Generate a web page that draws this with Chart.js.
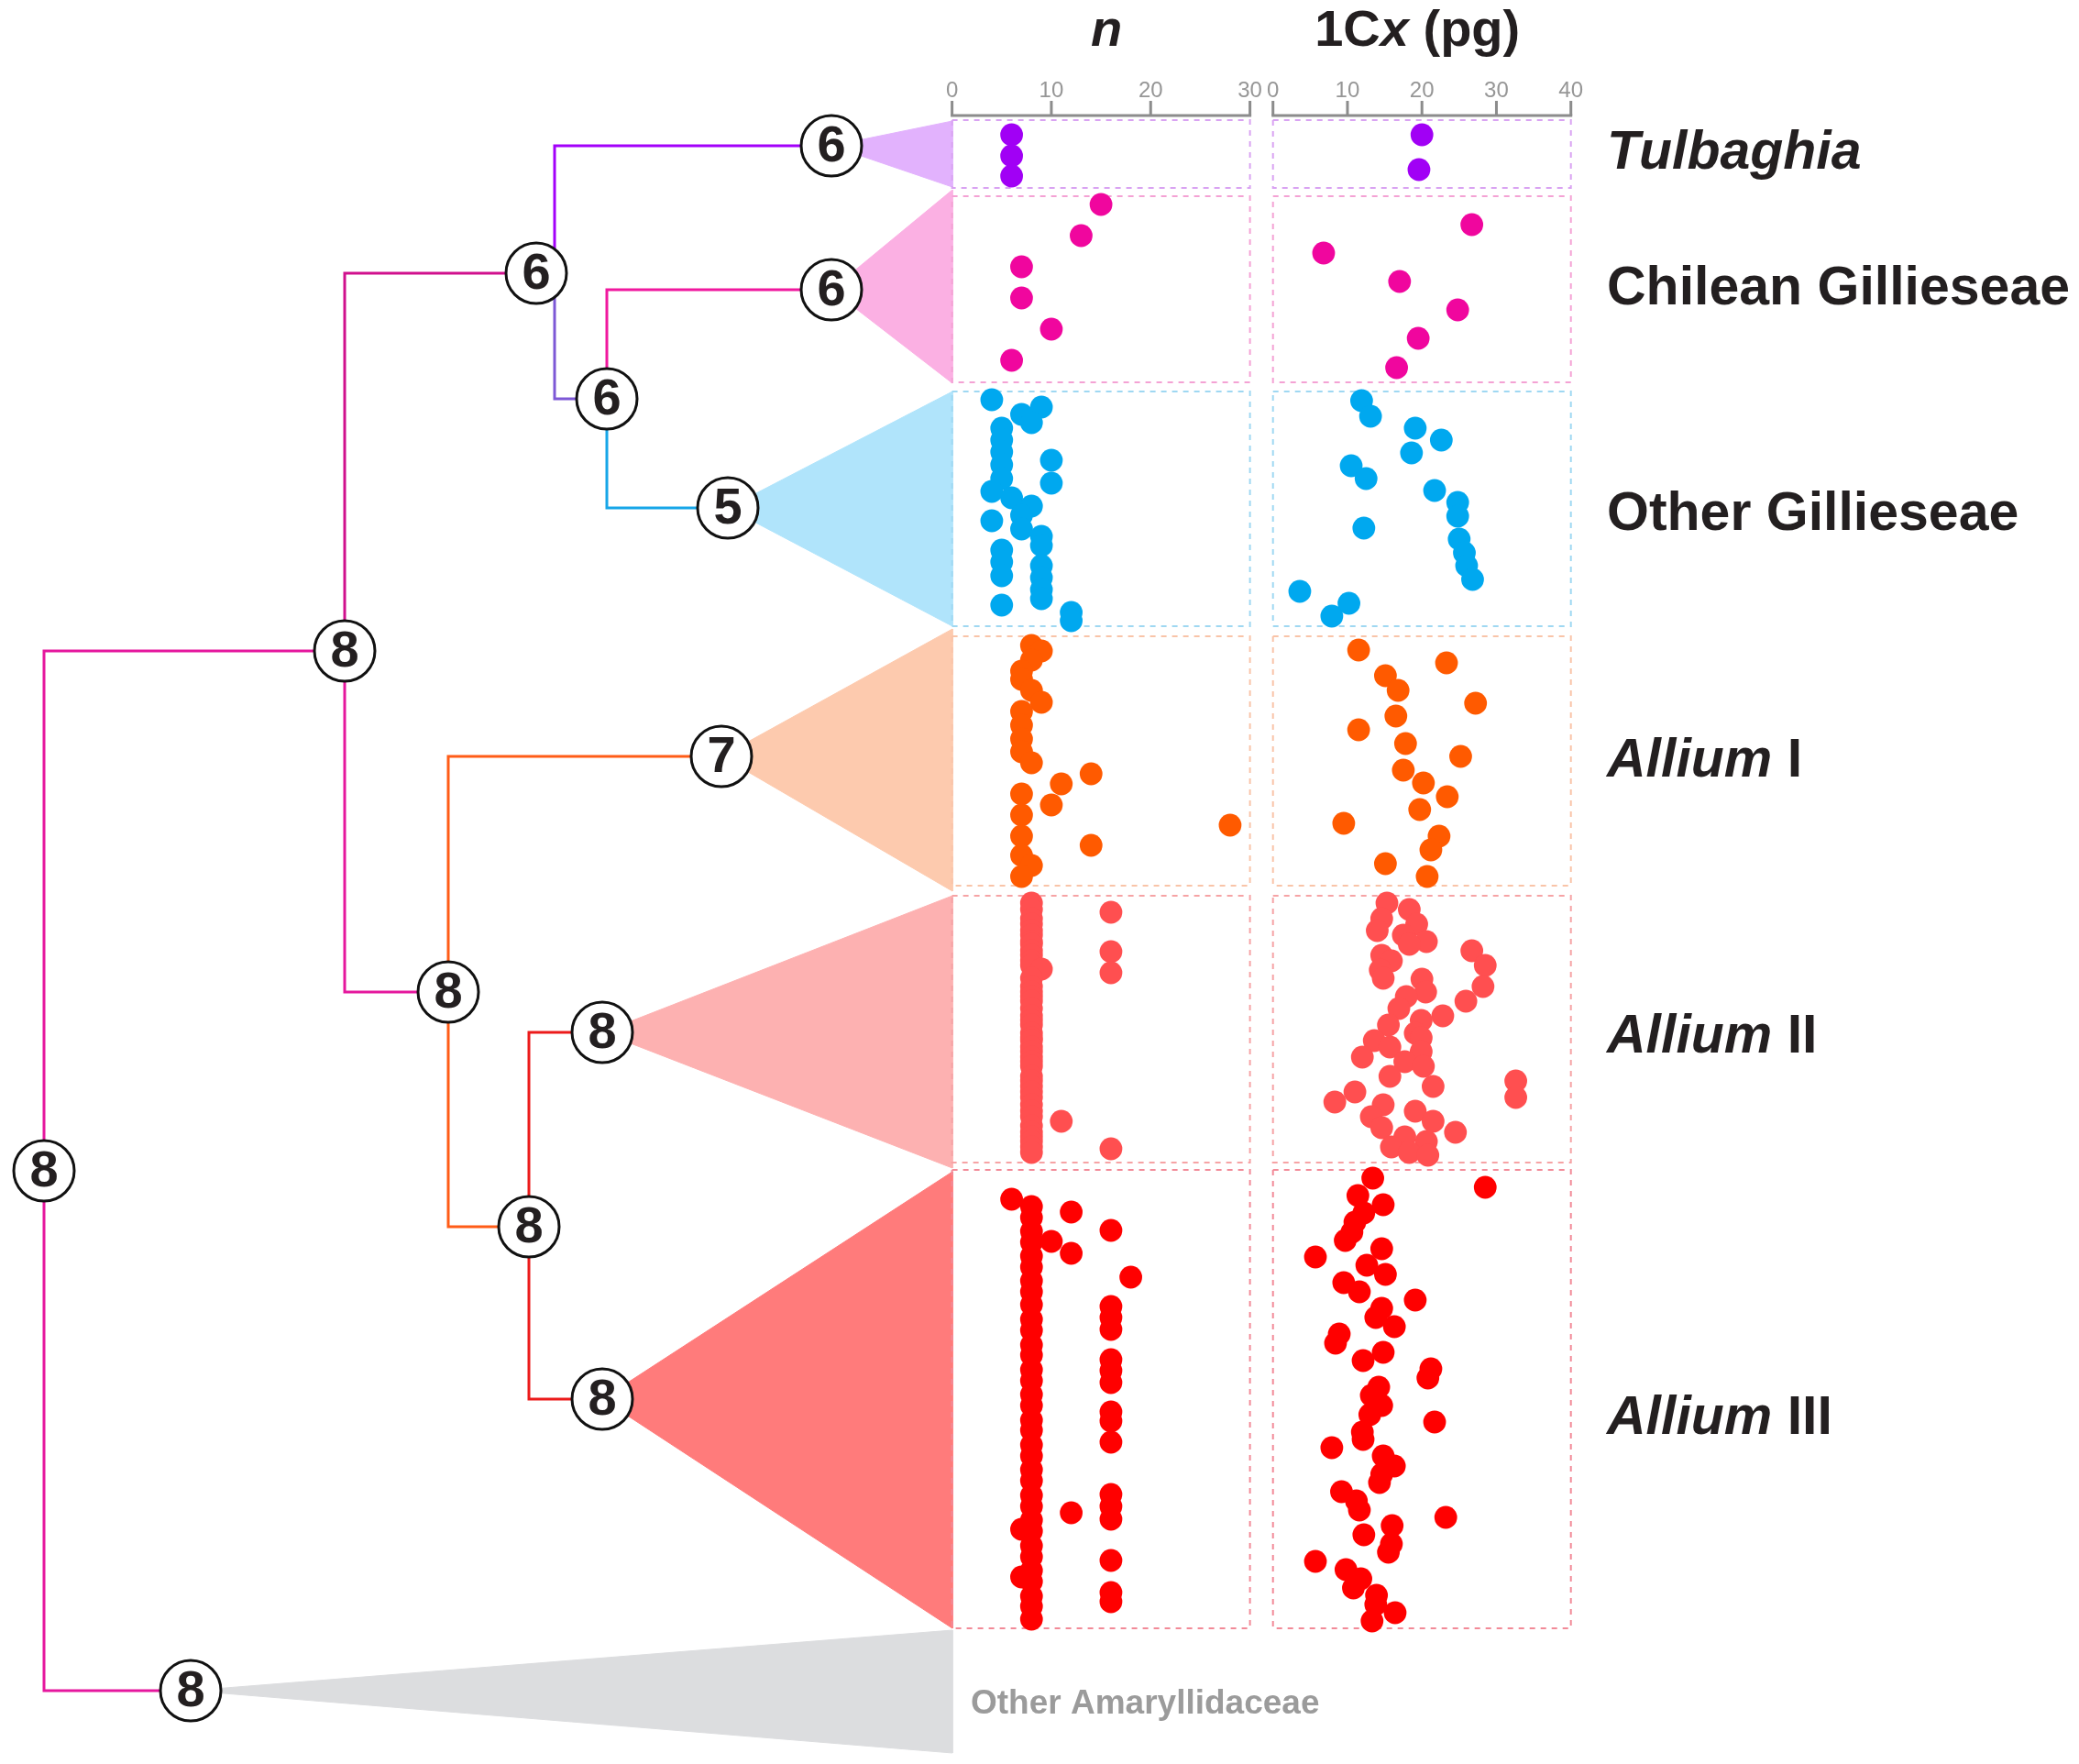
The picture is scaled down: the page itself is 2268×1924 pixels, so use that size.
<!DOCTYPE html>
<html>
<head>
<meta charset="utf-8">
<script src="https://cdn.jsdelivr.net/npm/chart.js@4.4.1/dist/chart.umd.min.js"></script>
<style>
html,body{margin:0;padding:0;background:#ffffff;}
canvas{display:block;}
</style>
</head>
<body>
<canvas id="chart" width="2268" height="1924"></canvas>
<script>
// ===================== DATA =====================
// axis ticks
const nTicks  = [0, 10, 20, 30];
const cxTicks = [0, 10, 20, 30, 40];

// clades (top to bottom)
const cladeNames  = ['Tulbaghia', 'Chilean Gillieseae', 'Other Gillieseae', 'Allium I', 'Allium II', 'Allium III'];
const outgroupName = 'Other Amaryllidaceae';

// per-taxon values; "Pos" = position of the taxon along the tree order (top -> bottom)
const tulN      = [6, 6, 6];
const tulNPos   = [14.7, 17.0, 19.2];
const tulCx     = [20.0, 19.6];
const tulCxPos  = [14.7, 18.5];

const chiN      = [15, 13, 7, 7, 10, 6];
const chiNPos   = [22.3, 25.7, 29.1, 32.5, 35.9, 39.3];
const chiCx     = [26.7, 6.8, 17.0, 24.8, 19.5, 16.6];
const chiCxPos  = [24.5, 27.6, 30.7, 33.8, 36.9, 40.1];

const ogN       = [4, 9, 7, 8, 5, 5, 5, 10, 5, 5, 10, 4, 6, 8, 7, 4, 7, 9, 9, 5, 5, 9, 5, 9, 9, 9, 5, 12, 12];
const ogNPos    = [43.6, 44.4, 45.2, 46.1, 46.7, 48.0, 49.3, 50.2, 50.7, 52.2, 52.7, 53.6, 54.3, 55.2, 56.2, 56.8, 57.7, 58.5, 59.5, 60.0, 61.3, 61.7, 62.8, 63.0, 64.3, 65.3, 66.0, 66.8, 67.7];
const ogCx      = [11.9, 13.1, 19.1, 22.6, 18.6, 10.5, 12.5, 21.7, 24.8, 24.8, 12.2, 25.0, 25.7, 26.0, 26.8, 3.6, 10.2, 7.9];
const ogCxPos   = [43.7, 45.4, 46.7, 48.0, 49.4, 50.8, 52.2, 53.5, 54.8, 56.3, 57.6, 58.8, 60.3, 61.7, 63.2, 64.5, 65.8, 67.2];

const a1N       = [8, 9, 8, 7, 7, 8, 9, 7, 7, 7, 7, 8, 14, 11, 7, 10, 7, 28, 7, 14, 7, 8, 7];
const a1NPos    = [70.4, 71.0, 72.0, 73.2, 74.1, 75.3, 76.6, 77.6, 79.1, 80.6, 82.0, 83.2, 84.4, 85.5, 86.6, 87.8, 88.9, 90.0, 91.2, 92.2, 93.3, 94.4, 95.6];
const a1Cx      = [11.5, 23.3, 15.1, 16.8, 27.2, 16.5, 11.5, 17.8, 25.2, 17.5, 20.2, 23.4, 19.7, 9.5, 22.3, 21.2, 15.1, 20.7];
const a1CxPos   = [70.9, 72.3, 73.7, 75.3, 76.7, 78.1, 79.6, 81.1, 82.5, 84.0, 85.4, 86.9, 88.3, 89.8, 91.2, 92.7, 94.2, 95.6];

const a2N       = [8, 8, 16, 8, 8, 8, 8, 8, 8, 8, 16, 8, 8, 8, 9, 16,
                   8, 8, 8, 8, 8, 8, 8, 8, 8, 8, 8, 8, 8, 8, 8, 8, 8, 8, 8, 8, 8, 8, 8, 8, 8,
                   11, 8, 8, 8, 8, 8, 16, 8];
const a2NPos    = [98.5, 99.2, 99.5, 100.2, 100.8, 101.5, 102.0, 102.7, 103.0, 103.7, 103.8, 104.2, 104.8, 105.3, 105.7, 106.1,
                   106.7, 107.6, 108.2, 108.7, 109.2, 110.0, 110.8, 111.3, 111.8, 112.7, 113.2, 113.5, 114.2, 114.7, 115.3, 115.8, 116.3, 117.4, 117.9, 118.5, 119.1, 119.7, 120.5, 121.2, 121.8,
                   122.3, 122.8, 123.5, 124.0, 124.5, 125.1, 125.3, 125.7];
const a2Cx      = [15.3, 18.3, 14.6, 19.3, 14.0, 17.5, 20.6, 18.3, 26.7, 14.6, 15.9, 28.5, 14.4, 14.8, 20.0, 28.2,
                   20.5, 17.9, 25.9, 16.9, 22.8, 19.9, 15.5, 19.1, 19.9, 13.6, 15.7, 19.9, 12.0, 17.7, 20.2, 15.7,
                   32.6, 21.5, 11.0, 32.6, 8.3, 14.8, 19.1, 13.2, 21.5, 14.6, 24.5, 17.7, 20.6, 15.9, 18.3, 20.8];
const a2CxPos   = [98.5, 99.2, 100.2, 100.8, 101.5, 102.0, 102.7, 103.0, 103.7, 104.2, 104.8, 105.3, 105.8, 106.7, 106.8, 107.6,
                   108.2, 108.7, 109.2, 110.0, 110.8, 111.3, 111.8, 112.7, 113.2, 113.5, 114.2, 114.7, 115.3, 115.8, 116.3, 117.4,
                   117.9, 118.5, 119.1, 119.7, 120.2, 120.5, 121.2, 121.8, 122.3, 123.0, 123.5, 124.0, 124.5, 125.1, 125.7, 126.0];

const a3N       = [6, 12, 16, 10, 12, 18, 16, 16, 16, 16, 16, 16, 16, 16, 16, 16, 16, 16, 16, 16, 16, 12, 7, 7,
                   8, 8, 8, 8, 8, 8, 8, 8, 8, 8, 8, 8, 8, 8, 8, 8, 8, 8, 8, 8, 8, 8, 8, 8, 8, 8, 8, 8, 8, 8, 8, 8, 8, 8];
const a3NPos    = [130.8, 132.2, 134.2, 135.4, 136.7, 139.3, 142.5, 143.7, 145.0, 148.3, 149.5, 150.8, 154.0, 155.0, 157.3, 163.0, 164.3, 165.7, 170.2, 173.7, 174.7, 165.0, 166.8, 172.0,
                   131.6, 132.8, 134.3, 135.5, 137.0, 138.2, 139.7, 140.9, 142.3, 143.9, 145.1, 146.7, 147.8, 149.4, 150.6, 152.1, 153.3, 154.9, 156.0, 157.6, 158.8, 160.3, 161.5, 163.1, 164.3, 165.8, 167.0, 168.6, 169.8, 171.3, 172.5, 174.1, 175.2, 176.6];
const a3Cx      = [13.4, 28.5, 11.4, 14.8, 12.2, 11.0, 10.6, 9.7, 14.6, 5.7, 12.6, 15.1, 9.5, 11.6, 19.1, 14.6, 13.8, 16.3,
                   8.9, 8.4, 14.8, 12.1, 21.2, 20.8, 14.2, 13.2, 14.6, 13.0, 21.7, 12.0, 12.1, 7.9, 14.8, 16.3, 14.6, 14.3,
                   9.2, 11.2, 11.6, 23.2, 16.0, 12.2, 15.9, 15.5, 5.7, 9.8, 11.8, 10.8, 13.9, 13.8, 16.4, 13.3];
const a3CxPos   = [128.5, 129.5, 130.4, 131.4, 132.3, 133.3, 134.4, 135.3, 136.2, 137.1, 138.0, 139.0, 139.9, 140.9, 141.8, 142.7, 143.7, 144.7,
                   145.5, 146.5, 147.5, 148.4, 149.3, 150.3, 151.3, 152.2, 153.3, 154.3, 155.1, 156.2, 157.0, 157.9, 158.8, 159.9, 160.8, 161.7,
                   162.7, 163.7, 164.7, 165.5, 166.4, 167.4, 168.4, 169.3, 170.3, 171.2, 172.2, 173.2, 174.0, 175.0, 175.9, 176.8];

// clade row extents along the tree-order axis
const cladeTop    = [13.1, 21.4, 42.7, 69.4, 97.7, 127.6];
const cladeBottom = [20.5, 41.7, 68.3, 96.6, 126.8, 177.6];

// tree: reconstructed base chromosome numbers at nodes
const nodeLabels = ['8', '8', '8', '6', '6', '6', '6', '5', '8', '7', '8', '8', '8'];
const nodeParent = [-1, 0, 0, 2, 3, 3, 5, 5, 2, 8, 8, 10, 10];
const nodeDepth  = [4.8, 20.8, 37.6, 58.5, 90.7, 66.2, 90.7, 79.4, 48.9, 78.7, 57.7, 65.7, 65.7];
const nodePos    = [127.7, 184.4, 71.0, 29.8, 15.9, 43.5, 31.6, 55.4, 108.2, 82.5, 133.8, 112.6, 152.6];
const nodeStem   = [4.8, 20.8, 37.6, 60.5, 90.7, 66.2, 90.7, 79.4, 48.9, 78.7, 57.7, 65.7, 65.7];

// collapsed clades: node index, extent of the wedge
const wedgeNode   = [4, 6, 7, 9, 11, 12, 1];
const wedgeTop    = [13.2, 20.7, 42.7, 68.6, 97.7, 127.8, 177.8];
const wedgeBottom = [20.4, 41.8, 68.3, 97.2, 127.4, 177.6, 191.2];

// ===================== STYLE / LAYOUT =====================
const W = 2268, H = 1924;
const FONT = '"Liberation Sans", Arial, Helvetica, sans-serif';
const TEXT = '#231f20';
const treeMax = 226.8, posMax = 192.4;          // tree-depth units and tree-order units spanning the canvas
const wedgeEdge = 103.9;                        // depth where wedges end (panel start)
const nPanelPx  = [1038.6, 1363.6];             // pixel extent of the n panel
const cxPanelPx = [1388.7, 1713.7];             // pixel extent of the 1Cx panel
const titleBase = 5.0, tickLabelBase = 10.6, tickTop = 11.0, axisLine = 12.6;
const cladeLabelDepth = 175.3;
const cladeLabelBase = [18.4, 33.2, 57.8, 84.7, 114.8, 156.4];
const outLabelDepth = 105.9, outLabelBase = 186.9;

const dotColors   = ['#a100f5', '#f0069e', '#00a8ef', '#ff5a00', '#ff4f50', '#ff0000'];
const boxColors   = ['#d9a3f2', '#f4a2d4', '#9fd8f2', '#f9c4a8', '#f6a3a5', '#f28a98'];
const wedgeColors = ['#e2b2fd', '#fbb0e3', '#b0e4fb', '#fdcaae', '#fdb1b1', '#ff7b7b', '#dcdddf'];
const branchColors = [null, '#e5179d', '#e5179d', '#d0108d', '#a300fa', '#7d58d6', '#f0189e', '#17a6e8', '#e5179d', '#ff5c17', '#ff5c17', '#ec1a1a', '#ec1a1a'];

function spanScale(px, v0, v1) {
  const k = (v1 - v0) / (px[1] - px[0]);
  return { min: v0 - px[0] * k, max: v0 + (W - px[0]) * k };
}
function pts(xs, ys) { return xs.map((v, i) => ({ x: v, y: ys[i] })); }

const cladeData = [
  [tulN, tulNPos, tulCx, tulCxPos],
  [chiN, chiNPos, chiCx, chiCxPos],
  [ogN, ogNPos, ogCx, ogCxPos],
  [a1N, a1NPos, a1Cx, a1CxPos],
  [a2N, a2NPos, a2Cx, a2CxPos],
  [a3N, a3NPos, a3Cx, a3CxPos]
];

// ===================== DATASETS =====================
const datasets = [];
const base = { type: 'scatter', showLine: true, pointRadius: 0, clip: false, yAxisID: 'y' };

// wedges (collapsed clades)
wedgeNode.forEach((ni, i) => {
  datasets.push(Object.assign({}, base, {
    xAxisID: 'x',
    data: [{ x: nodeDepth[ni], y: nodePos[ni] }, { x: wedgeEdge, y: wedgeTop[i] },
           { x: wedgeEdge, y: wedgeBottom[i] }, { x: nodeDepth[ni], y: nodePos[ni] }],
    fill: 'shape', backgroundColor: wedgeColors[i], borderColor: wedgeColors[i], borderWidth: 1, order: 10
  }));
});

// dotted panel frames
cladeTop.forEach((t, i) => {
  const b = cladeBottom[i];
  [['xn', nTicks], ['xc', cxTicks]].forEach(([ax, tk]) => {
    const a = tk[0], e = tk[tk.length - 1];
    datasets.push(Object.assign({}, base, {
      xAxisID: ax,
      data: [{ x: a, y: t }, { x: e, y: t }, { x: e, y: b }, { x: a, y: b }, { x: a, y: t }],
      fill: false, borderColor: boxColors[i], borderWidth: 2, borderDash: [6, 6], order: 9
    }));
  });
});

// tree branches
nodeParent.forEach((p, i) => {
  if (p < 0) return;
  datasets.push(Object.assign({}, base, {
    xAxisID: 'x',
    data: [{ x: nodeStem[p], y: nodePos[p] }, { x: nodeStem[p], y: nodePos[i] }, { x: nodeDepth[i], y: nodePos[i] }],
    fill: false, borderColor: branchColors[i], borderWidth: 3, borderCapStyle: 'square', order: 8
  }));
});

// data dots
cladeData.forEach(([nv, np, cv, cp], i) => {
  datasets.push({ type: 'scatter', xAxisID: 'xn', yAxisID: 'y', data: pts(nv, np), clip: false,
    pointRadius: 12.4, pointBorderWidth: 0, backgroundColor: dotColors[i], borderColor: dotColors[i], order: 4 });
  datasets.push({ type: 'scatter', xAxisID: 'xc', yAxisID: 'y', data: pts(cv, cp), clip: false,
    pointRadius: 12.4, pointBorderWidth: 0, backgroundColor: dotColors[i], borderColor: dotColors[i], order: 4 });
});

// node circles
const nodeDatasetIndex = datasets.length;
datasets.push({ type: 'scatter', xAxisID: 'x', yAxisID: 'y', data: pts(nodeDepth, nodePos), clip: false,
  pointRadius: 33, pointBackgroundColor: '#ffffff', pointBorderColor: '#111111', pointBorderWidth: 3, order: 1 });

// ===================== TEXT / AXES PLUGIN =====================
function drawParts(ctx, parts, x, y, size, align, color) {
  ctx.fillStyle = color;
  ctx.textBaseline = 'alphabetic';
  ctx.textAlign = 'left';
  const widths = parts.map(([t, it]) => { ctx.font = `${it ? 'italic ' : ''}bold ${size}px ${FONT}`; return ctx.measureText(t).width; });
  const total = widths.reduce((a, b) => a + b, 0);
  let cx = align === 'center' ? x - total / 2 : x;
  parts.forEach(([t, it], i) => {
    ctx.font = `${it ? 'italic ' : ''}bold ${size}px ${FONT}`;
    ctx.fillText(t, cx, y);
    cx += widths[i];
  });
}
function labelParts(name) {
  if (name === 'Tulbaghia') return [[name, true]];
  if (name.startsWith('Allium')) return [['Allium', true], [name.slice(6), false]];
  return [[name, false]];
}

const annotations = {
  id: 'annotations',
  afterDatasetsDraw(chart) {
    const ctx = chart.ctx;
    const { x, y, xn, xc } = chart.scales;
    ctx.save();

    // node numbers
    ctx.font = `bold 56px ${FONT}`;
    ctx.textAlign = 'center';
    ctx.textBaseline = 'middle';
    ctx.fillStyle = TEXT;
    chart.getDatasetMeta(nodeDatasetIndex).data.forEach((el, i) => ctx.fillText(nodeLabels[i], el.x, el.y + 2));

    // top axes
    const yl = y.getPixelForValue(axisLine), yt = y.getPixelForValue(tickTop), yb = y.getPixelForValue(tickLabelBase);
    [[xn, nTicks], [xc, cxTicks]].forEach(([sc, ticks]) => {
      ctx.strokeStyle = '#8c8c8c';
      ctx.lineWidth = 3;
      ctx.lineCap = 'butt';
      ctx.beginPath();
      ctx.moveTo(sc.getPixelForValue(ticks[0]) - 1.5, yl);
      ctx.lineTo(sc.getPixelForValue(ticks[ticks.length - 1]) + 1.5, yl);
      ctx.stroke();
      ticks.forEach(t => {
        const px = sc.getPixelForValue(t);
        ctx.beginPath(); ctx.moveTo(px, yl); ctx.lineTo(px, yt); ctx.stroke();
      });
      ctx.font = `24px ${FONT}`;
      ctx.fillStyle = '#969696';
      ctx.textAlign = 'center';
      ctx.textBaseline = 'alphabetic';
      ticks.forEach(t => ctx.fillText(String(t), sc.getPixelForValue(t), yb));
    });

    // panel titles
    const ty = y.getPixelForValue(titleBase);
    drawParts(ctx, [['n', true]], xn.getPixelForValue((nTicks[0] + nTicks[nTicks.length - 1]) / 2) + 6, ty, 56, 'center', TEXT);
    drawParts(ctx, [['1C', false], ['x', true], [' (pg)', false]], xc.getPixelForValue((cxTicks[0] + cxTicks[cxTicks.length - 1]) / 2) - 5, ty, 56, 'center', TEXT);

    // clade labels
    cladeNames.forEach((name, i) => {
      drawParts(ctx, labelParts(name), x.getPixelForValue(cladeLabelDepth), y.getPixelForValue(cladeLabelBase[i]), 59, 'left', TEXT);
    });
    drawParts(ctx, [[outgroupName, false]], x.getPixelForValue(outLabelDepth), y.getPixelForValue(outLabelBase), 37, 'left', '#9b9b9b');

    ctx.restore();
  }
};

// ===================== CHART =====================
new Chart(document.getElementById('chart'), {
  type: 'scatter',
  data: { datasets },
  options: {
    responsive: false,
    animation: false,
    devicePixelRatio: 1,
    events: [],
    layout: { padding: 0, autoPadding: false },
    plugins: { legend: { display: false }, tooltip: { enabled: false }, title: { display: false } },
    scales: {
      x:  { type: 'linear', axis: 'x', display: false, min: 0, max: treeMax },
      xn: Object.assign({ type: 'linear', axis: 'x', display: false }, spanScale(nPanelPx, nTicks[0], nTicks[nTicks.length - 1])),
      xc: Object.assign({ type: 'linear', axis: 'x', display: false }, spanScale(cxPanelPx, cxTicks[0], cxTicks[cxTicks.length - 1])),
      y:  { type: 'linear', axis: 'y', display: false, min: 0, max: posMax, reverse: true }
    }
  },
  plugins: [annotations]
});
</script>
</body>
</html>
